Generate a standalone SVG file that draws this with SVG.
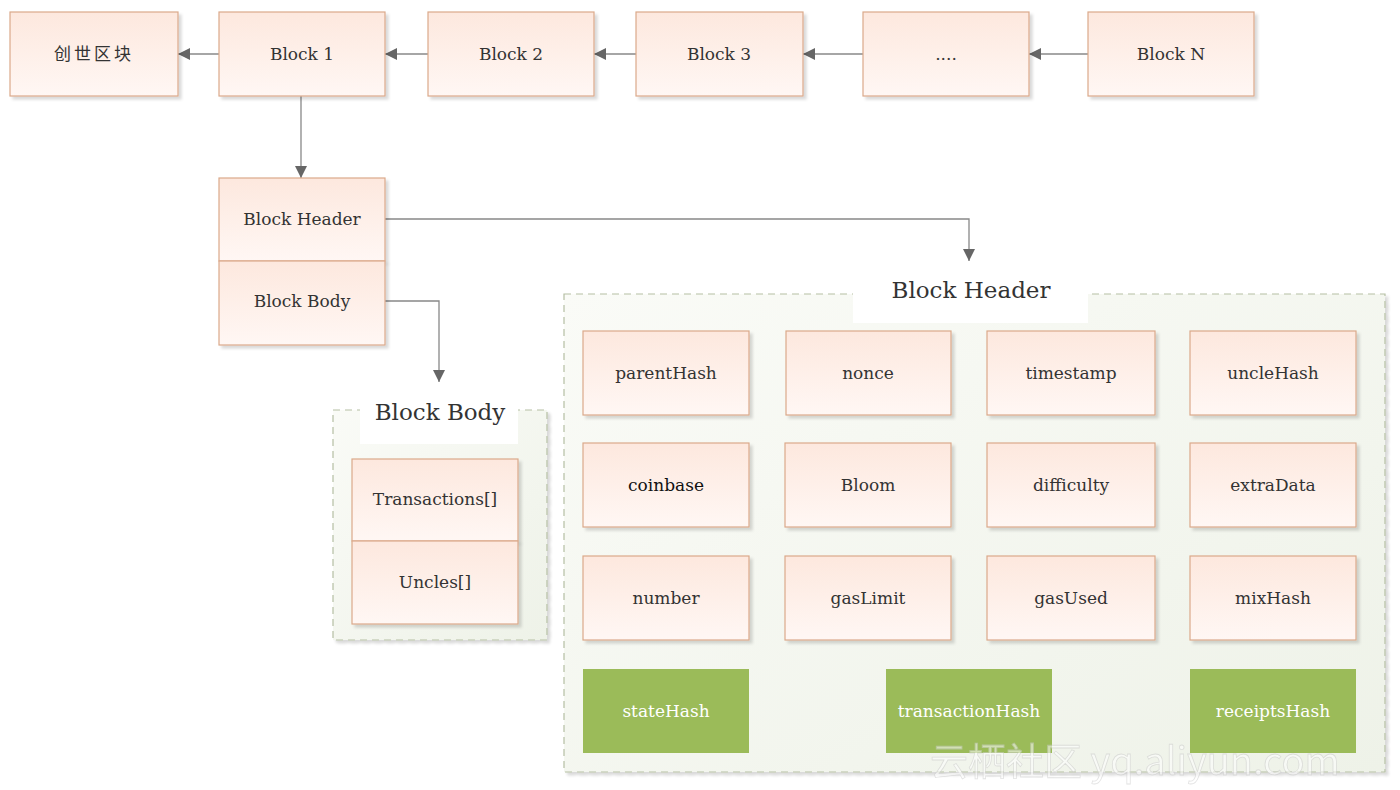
<svg xmlns="http://www.w3.org/2000/svg" width="1400" height="790" viewBox="0 0 1400 790">
<defs>
<linearGradient id="peach" x1="0" y1="0" x2="0" y2="1">
<stop offset="0" stop-color="#fde8de"/>
<stop offset="1" stop-color="#fff7f4"/>
</linearGradient>
<linearGradient id="cont" x1="0" y1="0" x2="1" y2="1">
<stop offset="0" stop-color="#fafbf7"/>
<stop offset="1" stop-color="#eef2e8"/>
</linearGradient>
<filter id="sh" x="-10%" y="-10%" width="130%" height="130%">
<feGaussianBlur in="SourceAlpha" stdDeviation="1.5"/>
<feOffset dx="3" dy="3" result="b"/>
<feComponentTransfer><feFuncA type="linear" slope="0.15"/></feComponentTransfer>
<feMerge><feMergeNode/><feMergeNode in="SourceGraphic"/></feMerge>
</filter>
<marker id="arr" viewBox="0 0 10 10" refX="10" refY="5" markerWidth="12" markerHeight="12" markerUnits="userSpaceOnUse" orient="auto">
<path d="M0,0 L10,5 L0,10 z" fill="#666"/>
</marker>
</defs>
<style>
.box{fill:url(#peach);stroke:#dba98a;stroke-width:1.2;filter:url(#sh)}
.green{fill:#9bbb59;stroke:none}
.t{font-family:"DejaVu Serif","Noto Sans CJK SC",serif;font-size:17px;fill:#333;text-anchor:middle;dominant-baseline:central}
.tw{font-family:"DejaVu Serif",serif;font-size:17px;fill:#fff;text-anchor:middle;dominant-baseline:central}
.title{font-family:"DejaVu Serif",serif;font-size:23px;fill:#333;text-anchor:middle;dominant-baseline:central}
.cont{fill:url(#cont);stroke:#b5bfa3;stroke-width:1.2;stroke-dasharray:7 5;filter:url(#sh)}
.conn{fill:none;stroke:#888;stroke-width:1.3;marker-end:url(#arr)}
</style>
<rect width="1400" height="790" fill="#fff"/>

<g id="bodyContainer">
<rect class="cont" x="333" y="410" width="214" height="230"/>
<rect x="360" y="396" width="158" height="48" fill="#fff"/>
<text class="title" x="440" y="412">Block Body</text>
</g>
<g id="headerContainer">
<rect class="cont" x="564" y="294" width="821" height="478"/>
<rect x="853" y="268" width="235" height="55" fill="#fff"/>
<text class="title" x="971" y="290">Block Header</text>
</g>

<g id="connectors">
<line class="conn" x1="219" y1="54" x2="178" y2="54"/>
<line class="conn" x1="428" y1="54" x2="385" y2="54"/>
<line class="conn" x1="636" y1="54" x2="594" y2="54"/>
<line class="conn" x1="863" y1="54" x2="803" y2="54"/>
<line class="conn" x1="1088" y1="54" x2="1029" y2="54"/>
<line class="conn" x1="301" y1="96" x2="301" y2="178"/>
<polyline class="conn" points="385,219 969,219 969,261"/>
<polyline class="conn" points="385,301 439,301 439,382"/>
</g>

<g id="genesis"><rect class="box" x="10" y="12" width="168" height="84"/><text class="t" x="94" y="54" style="letter-spacing:3px">创世区块</text></g>
<g id="block1"><rect class="box" x="219" y="12" width="166" height="84"/><text class="t" x="302" y="54">Block 1</text></g>
<g id="block2"><rect class="box" x="428" y="12" width="166" height="84"/><text class="t" x="511" y="54">Block 2</text></g>
<g id="block3"><rect class="box" x="636" y="12" width="167" height="84"/><text class="t" x="719" y="54">Block 3</text></g>
<g id="blockDots"><rect class="box" x="863" y="12" width="166" height="84"/><text class="t" x="946" y="54">....</text></g>
<g id="blockN"><rect class="box" x="1088" y="12" width="166" height="84"/><text class="t" x="1171" y="54">Block N</text></g>

<g id="blockHeader"><rect class="box" x="219" y="178" width="166" height="83"/><text class="t" x="302" y="219">Block Header</text></g>
<g id="blockBody"><rect class="box" x="219" y="261" width="166" height="84"/><text class="t" x="302" y="301">Block Body</text></g>

<g id="transactions"><rect class="box" x="352" y="459" width="166" height="82"/><text class="t" x="435" y="499">Transactions[]</text></g>
<g id="uncles"><rect class="box" x="352" y="541" width="166" height="83"/><text class="t" x="435" y="582">Uncles[]</text></g>

<g id="parentHash"><rect class="box" x="583" y="331" width="166" height="84"/><text class="t" x="666" y="373">parentHash</text></g>
<g id="nonce"><rect class="box" x="786" y="331" width="165" height="84"/><text class="t" x="868" y="373">nonce</text></g>
<g id="timestamp"><rect class="box" x="987" y="331" width="168" height="84"/><text class="t" x="1071" y="373">timestamp</text></g>
<g id="uncleHash"><rect class="box" x="1190" y="331" width="166" height="84"/><text class="t" x="1273" y="373">uncleHash</text></g>

<g id="coinbase"><rect class="box" x="583" y="443" width="166" height="84"/><text class="t" x="666" y="485" style="fill:#111">coinbase</text></g>
<g id="bloom"><rect class="box" x="785" y="443" width="166" height="84"/><text class="t" x="868" y="485">Bloom</text></g>
<g id="difficulty"><rect class="box" x="987" y="443" width="168" height="84"/><text class="t" x="1071" y="485">difficulty</text></g>
<g id="extraData"><rect class="box" x="1190" y="443" width="166" height="84"/><text class="t" x="1273" y="485">extraData</text></g>

<g id="number"><rect class="box" x="583" y="556" width="166" height="84"/><text class="t" x="666" y="598">number</text></g>
<g id="gasLimit"><rect class="box" x="785" y="556" width="166" height="84"/><text class="t" x="868" y="598">gasLimit</text></g>
<g id="gasUsed"><rect class="box" x="987" y="556" width="168" height="84"/><text class="t" x="1071" y="598">gasUsed</text></g>
<g id="mixHash"><rect class="box" x="1190" y="556" width="166" height="84"/><text class="t" x="1273" y="598">mixHash</text></g>

<g id="stateHash"><rect class="green" x="583" y="669" width="166" height="84"/><text class="tw" x="666" y="711">stateHash</text></g>
<g id="transactionHash"><rect class="green" x="886" y="669" width="166" height="84"/><text class="tw" x="969" y="711">transactionHash</text></g>
<g id="receiptsHash"><rect class="green" x="1190" y="669" width="166" height="84"/><text class="tw" x="1273" y="711">receiptsHash</text></g>

<g id="watermark" opacity="0.55">
<text x="930" y="775" font-family="'Noto Sans CJK SC','Liberation Sans',sans-serif" font-size="38" fill="#fff" stroke="#ccc" stroke-width="0.8">云栖社区 yq.aliyun.com</text>
</g>
</svg>
